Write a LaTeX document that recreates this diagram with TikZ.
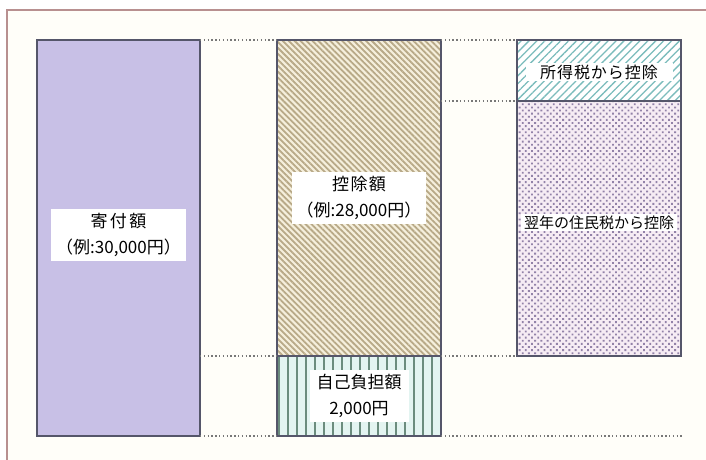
\documentclass[tikz,border=0pt]{standalone}
\usepackage{fontspec}
\newfontfamily\jpfont{Noto Sans CJK JP}
\usetikzlibrary{patterns.meta}
\definecolor{paper}{HTML}{FFFEF9}
\definecolor{framered}{HTML}{B89090}
\definecolor{barline}{HTML}{55566A}
\definecolor{lavender}{HTML}{C8C0E6}
\definecolor{kojobg}{HTML}{F5EFDC}
\definecolor{kojoline}{HTML}{B8A987}
\definecolor{jikobg}{HTML}{E3F4F1}
\definecolor{jikoline}{HTML}{6B8C7E}
\definecolor{shotokuline}{HTML}{7BBCBC}
\definecolor{juminbg}{HTML}{F6ECF4}
\definecolor{judot}{HTML}{9282A8}
\definecolor{guidegray}{HTML}{787878}
\begin{document}
\begin{tikzpicture}[x=1pt,y=-1pt,
    bar/.style={draw=barline,line width=1.2pt,inner sep=0pt,outer sep=0pt,
      anchor=north west,minimum width=164pt},
    tag/.style={fill=white,inner xsep=5pt,inner ysep=4pt,align=center,
      font=\jpfont\fontsize{17}{26}\selectfont},
    guide/.style={draw=guidegray,line width=1.4pt,dash pattern=on 1.4pt off 2.4pt}]
  \useasboundingbox (0,0) rectangle (706,459);
  \draw[framered,line width=1.2pt,fill=paper] (7,10) rectangle (720,470);
  % bars
  \node[bar,fill=lavender,minimum width=163pt,minimum height=396pt] (kifu) at (37,40) {};
  \node[bar,minimum height=316pt,preaction={fill=kojobg},
    pattern={Lines[angle=-45,distance=4.2pt,line width=1.8pt]},pattern color=kojoline] (kojo) at (277,40) {};
  \node[bar,minimum height=80pt,preaction={fill=jikobg},
    pattern={Lines[angle=90,distance=9pt,line width=1.8pt]},pattern color=jikoline] (jiko) at (277,356) {};
  \node[bar,minimum height=61pt,preaction={fill=white},
    pattern={Lines[angle=45,distance=5.6pt,line width=1.3pt]},pattern color=shotokuline] (shotoku) at (517,40) {};
  \node[bar,minimum height=255pt,preaction={fill=juminbg},
    pattern={Dots[angle=45,distance=4.4pt,radius=1.3pt]},pattern color=judot] (jumin) at (517,101) {};
  % dotted guides
  \coordinate (edge) at (683,436);
  \draw[guide] (kifu.north east) -- (kojo.north west);
  \draw[guide] (kojo.north east) -- (shotoku.north west);
  \draw[guide] (kojo.east |- shotoku.south west) -- (shotoku.south west);
  \draw[guide] (kifu.east |- kojo.south west) -- (kojo.south west);
  \draw[guide] (kojo.south east) -- (jumin.south west);
  \draw[guide] (kifu.south east) -- (jiko.south west);
  \draw[guide] (jiko.south east) -- (edge);
  % labels
  \node[tag] (kifutext) at ([yshift=3pt]kifu.center) {\addfontfeature{LetterSpace=14}寄付額\\（例:30,000円）};
  \node[tag] (kojotext) at (kojo.center) {\addfontfeature{LetterSpace=8}控除額\\（例:28,000円）};
  \node[tag,inner xsep=7pt] (jikotext) at (jiko.center) {自己負担額\\2,000円};
  \node[tag,minimum width=147pt,inner ysep=2pt,font=\jpfont\fontsize{16}{22}\selectfont] (shotokutext) at ([yshift=-1.5pt]shotoku.center) {\addfontfeature{LetterSpace=6}所得税から控除};
  \node[tag,inner xsep=3pt,inner ysep=2pt,font=\jpfont\fontsize{15}{20}\selectfont] (jumintext) at ([yshift=6pt]jumin.center) {翌年の住民税から控除};
\end{tikzpicture}
\end{document}
